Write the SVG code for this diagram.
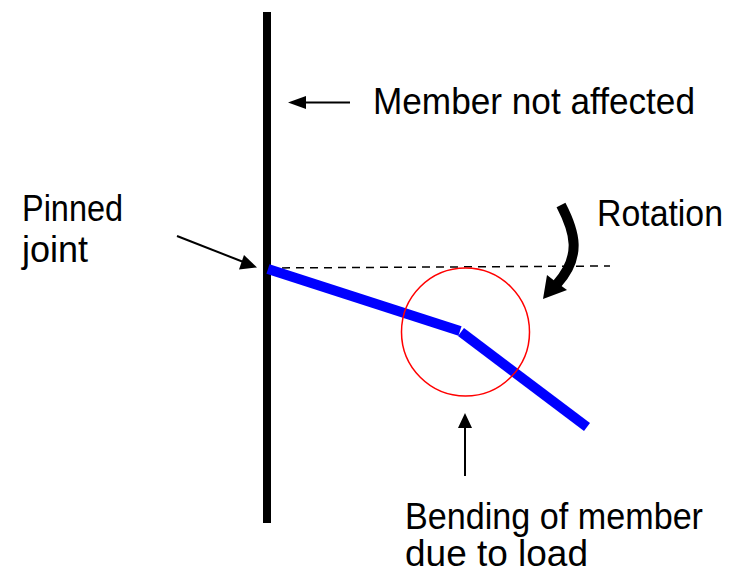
<svg xmlns="http://www.w3.org/2000/svg" width="735" height="573" viewBox="0 0 735 573">
<style>
.t{font-family:"Liberation Sans",Arial,sans-serif;font-size:36px;fill:#000}
.thin{stroke:#000;stroke-width:2;fill:none}
</style>
<rect width="735" height="573" fill="#fff"/>
<g id="connectors">
<line x1="268" y1="268" x2="610" y2="266" stroke="#000" stroke-width="1.5" stroke-dasharray="8,6"/>
<line class="thin" x1="350" y1="102.5" x2="300" y2="102.5"/>
<polygon points="288,102.5 306,96 306,109" fill="#000"/>
<line class="thin" x1="177" y1="236" x2="246" y2="263"/>
<polygon points="257,267.5 239,269.5 244,255" fill="#000"/>
<line class="thin" x1="465" y1="476" x2="465" y2="424"/>
<polygon points="465,413 458,428 472,428" fill="#000"/>
<path d="M561 205 C575 232 582 256 557 284" stroke="#000" stroke-width="10" fill="none"/>
<polygon points="543,299 547,275 556,282 567,290" fill="#000"/>
</g>
<g id="wall">
<line x1="267" y1="12" x2="267" y2="523" stroke="#000" stroke-width="8"/>
</g>
<g id="member">
<line x1="268" y1="269" x2="460" y2="331" stroke="#0000ff" stroke-width="10"/>
<line x1="461" y1="332" x2="587" y2="427" stroke="#0000ff" stroke-width="10"/>
</g>
<g id="circle">
<circle cx="465.5" cy="332" r="64" fill="none" stroke="#ff0000" stroke-width="1.5"/>
</g>
<g id="labels">
<text class="t" x="373" y="114" textLength="322" lengthAdjust="spacingAndGlyphs">Member not affected</text>
<text class="t" x="22" y="221" textLength="101" lengthAdjust="spacingAndGlyphs">Pinned</text>
<text class="t" x="22" y="262">joint</text>
<text class="t" x="597" y="226" textLength="126" lengthAdjust="spacingAndGlyphs">Rotation</text>
<text class="t" x="405" y="529" textLength="298" lengthAdjust="spacingAndGlyphs">Bending of member</text>
<text class="t" x="405" y="566" textLength="183" lengthAdjust="spacingAndGlyphs">due to load</text>
</g>
</svg>
